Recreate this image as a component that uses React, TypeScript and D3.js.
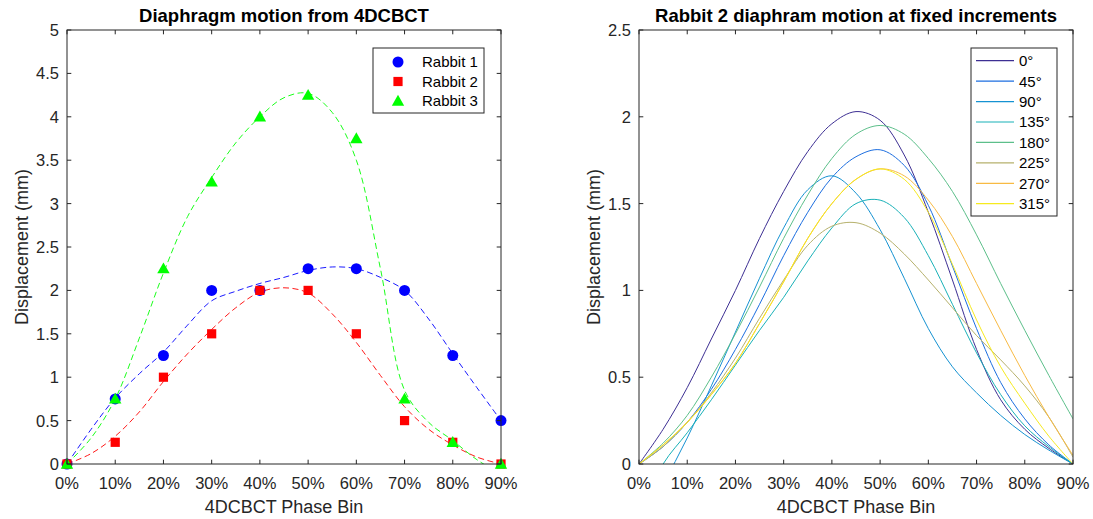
import React from 'react';
import * as d3 from 'd3';

const W = 1093;
const H = 519;

// ---------- Left chart data ----------
const PHASE_BINS = [0, 10, 20, 30, 40, 50, 60, 70, 80, 90];
const RABBIT1 = [0, 0.75, 1.25, 2, 2, 2.25, 2.25, 2, 1.25, 0.5];
const RABBIT2 = [0, 0.25, 1, 1.5, 2, 2, 1.5, 0.5, 0.25, 0];
const RABBIT3 = [0, 0.75, 2.25, 3.25, 4, 4.25, 3.75, 0.75, 0.25, 0];
const RABBIT_NAMES = ['Rabbit 1', 'Rabbit 2', 'Rabbit 3'];
const RABBIT_COLORS = ['#0000ff', '#ff0000', '#00ff00'];

const FIT_X = [0, 5, 10, 15, 20, 25, 30, 35, 40, 45, 50, 55, 60, 65, 70, 75, 80, 85, 90];
const FIT1 = [0, 0.4, 0.76, 1.04, 1.29, 1.6, 1.88, 1.99, 2.08, 2.15, 2.23, 2.27, 2.25, 2.15, 2.0, 1.67, 1.27, 0.88, 0.5];
const FIT2 = [0, 0.12, 0.32, 0.6, 0.95, 1.27, 1.55, 1.8, 1.98, 2.03, 1.97, 1.73, 1.4, 1.02, 0.66, 0.4, 0.22, 0.08, 0];
const FIT3 = [0, 0.3, 0.75, 1.45, 2.2, 2.85, 3.3, 3.7, 4.0, 4.22, 4.27, 4.05, 3.5, 2.25, 0.85, 0.48, 0.27, 0.05, -0.12];

const LEFT_Y_TICKS = [0, 0.5, 1, 1.5, 2, 2.5, 3, 3.5, 4, 4.5, 5];

// ---------- Right chart data ----------
const RIGHT_X = [0, 5, 10, 15, 20, 25, 30, 35, 40, 45, 50, 55, 60, 65, 70, 75, 80, 85, 90];
const ANGLE_LABELS = ['0°', '45°', '90°', '135°', '180°', '225°', '270°', '315°'];
const ANGLE_COLORS = ['#3d2f93', '#1c6ee0', '#1592d2', '#19b1b8', '#5cbf8a', '#b6b16c', '#f8ba43', '#f6ea1e'];
const A0 = [0, 0.2, 0.44, 0.72, 1.0, 1.3, 1.57, 1.8, 1.96, 2.03, 1.98, 1.78, 1.45, 1.06, 0.66, 0.37, 0.2, 0.09, 0];
const A45 = [0, 0.1, 0.24, 0.43, 0.66, 0.92, 1.2, 1.45, 1.65, 1.77, 1.81, 1.72, 1.49, 1.14, 0.78, 0.47, 0.26, 0.11, 0];
const A90 = [-0.4, -0.12, 0.15, 0.45, 0.76, 1.07, 1.36, 1.58, 1.66, 1.56, 1.35, 1.07, 0.78, 0.56, 0.41, 0.28, 0.17, 0.08, 0];
const A135 = [-0.3, 0, 0.18, 0.37, 0.57, 0.77, 0.96, 1.17, 1.36, 1.5, 1.52, 1.42, 1.2, 0.92, 0.64, 0.4, 0.22, 0.1, 0];
const A180 = [0, 0.12, 0.28, 0.5, 0.75, 1.02, 1.3, 1.55, 1.76, 1.9, 1.95, 1.9, 1.76, 1.57, 1.32, 1.04, 0.77, 0.51, 0.26];
const A225 = [0, 0.1, 0.24, 0.41, 0.61, 0.84, 1.06, 1.26, 1.37, 1.39, 1.33, 1.21, 1.06, 0.9, 0.74, 0.6, 0.45, 0.27, 0.04];
const A270 = [0, 0.11, 0.24, 0.4, 0.58, 0.81, 1.05, 1.3, 1.5, 1.64, 1.7, 1.66, 1.52, 1.31, 1.04, 0.77, 0.51, 0.27, 0.05];
const A315 = [0, 0.11, 0.24, 0.4, 0.58, 0.81, 1.05, 1.3, 1.5, 1.64, 1.7, 1.64, 1.45, 1.15, 0.83, 0.56, 0.35, 0.16, 0];
const ANGLE_SERIES = [A0, A45, A90, A135, A180, A225, A270, A315];
const RIGHT_Y_TICKS = [0, 0.5, 1, 1.5, 2, 2.5];

const X_TICKS = [0, 10, 20, 30, 40, 50, 60, 70, 80, 90];

const FONT = '"Liberation Sans", Arial, Helvetica, sans-serif';
const AXIS_COLOR = '#262626';

type Scale = d3.ScaleLinear<number, number>;

function Frame({ x, y, yTicks, title, xLabel, yLabel, yLabelX }: {
  x: Scale; y: Scale; yTicks: number[]; title: string; xLabel: string; yLabel: string; yLabelX: number;
}) {
  const [x0, x1] = x.range();
  const [y0, y1] = y.range(); // y0 bottom, y1 top
  const tl = 4.3;
  return (
    <g>
      {X_TICKS.map((t) => (
        <g key={'xt' + t}>
          <line x1={x(t)} x2={x(t)} y1={y0} y2={y0 - tl} stroke={AXIS_COLOR} strokeWidth={1} />
          <line x1={x(t)} x2={x(t)} y1={y1} y2={y1 + tl} stroke={AXIS_COLOR} strokeWidth={1} />
          <text x={x(t)} y={y0 + 25} textAnchor="middle" fontSize={16.5} fill={AXIS_COLOR} fontFamily={FONT}>{t + '%'}</text>
        </g>
      ))}
      {yTicks.map((t) => (
        <g key={'yt' + t}>
          <line x1={x0} x2={x0 + tl} y1={y(t)} y2={y(t)} stroke={AXIS_COLOR} strokeWidth={1} />
          <line x1={x1} x2={x1 - tl} y1={y(t)} y2={y(t)} stroke={AXIS_COLOR} strokeWidth={1} />
          <text x={x0 - 8} y={y(t)} dy="0.36em" textAnchor="end" fontSize={16.5} fill={AXIS_COLOR} fontFamily={FONT}>{String(t)}</text>
        </g>
      ))}
      <rect x={x0} y={y1} width={x1 - x0} height={y0 - y1} fill="none" stroke={AXIS_COLOR} strokeWidth={1} />
      <text x={(x0 + x1) / 2} y={y1 - 8} textAnchor="middle" fontSize={18.5} fontWeight="bold" fill="#000" fontFamily={FONT}>{title}</text>
      <text x={(x0 + x1) / 2} y={y0 + 49} textAnchor="middle" fontSize={18} fill={AXIS_COLOR} fontFamily={FONT}>{xLabel}</text>
      <text transform={`translate(${yLabelX},${(y0 + y1) / 2}) rotate(-90)`} textAnchor="middle" dy="0.35em" fontSize={18} fill={AXIS_COLOR} fontFamily={FONT}>{yLabel}</text>
    </g>
  );
}

function Marker({ kind, cx, cy, color }: { kind: number; cx: number; cy: number; color: string }) {
  if (kind === 0) return <circle cx={cx} cy={cy} r={5.5} fill={color} />;
  if (kind === 1) return <rect x={cx - 4.6} y={cy - 4.6} width={9.2} height={9.2} fill={color} />;
  const s = 6.2;
  return <path d={`M${cx},${cy - s}L${cx + s * 1.0},${cy + s * 0.75}L${cx - s * 1.0},${cy + s * 0.75}Z`} fill={color} />;
}

export default function App() {
  // Left
  const xL = d3.scaleLinear().domain([0, 90]).range([67, 501]);
  const yL = d3.scaleLinear().domain([0, 5]).range([464, 30]);
  // Right
  const xR = d3.scaleLinear().domain([0, 90]).range([639, 1073]);
  const yR = d3.scaleLinear().domain([0, 2.5]).range([464, 30]);

  const lineL = d3.line<number>().x((_, i) => xL(FIT_X[i])).y((v) => yL(v)).curve(d3.curveCatmullRom.alpha(0.5));
  const lineR = d3.line<number>().x((_, i) => xR(RIGHT_X[i])).y((v) => yR(v)).curve(d3.curveCatmullRom.alpha(0.5));

  const rabbits = [RABBIT1, RABBIT2, RABBIT3];
  const fits = [FIT1, FIT2, FIT3];

  return (
    <svg width={W} height={H} style={{ position: 'absolute', left: 0, top: 0, background: '#fff' }} xmlns="http://www.w3.org/2000/svg">
      <defs>
        <clipPath id="clipL"><rect x={67} y={30} width={434} height={434} /></clipPath>
        <clipPath id="clipR"><rect x={639} y={30} width={434} height={434} /></clipPath>
      </defs>
      <rect x={0} y={0} width={W} height={H} fill="#fff" />

      {/* Left chart */}
      <g clipPath="url(#clipL)">
        {fits.map((f, k) => (
          <path key={'fit' + k} d={lineL(f) || ''} fill="none" stroke={RABBIT_COLORS[k]} strokeWidth={0.9} strokeDasharray="6,3.5" />
        ))}
      </g>
      {rabbits.map((r, k) => (
        <g key={'r' + k}>
          {r.map((v, i) => (
            <Marker key={i} kind={k} cx={xL(PHASE_BINS[i])} cy={yL(v)} color={RABBIT_COLORS[k]} />
          ))}
        </g>
      ))}
      <Frame x={xL} y={yL} yTicks={LEFT_Y_TICKS} title="Diaphragm motion from 4DCBCT" xLabel="4DCBCT Phase Bin" yLabel="Displacement (mm)" yLabelX={22} />
      {/* Left legend */}
      <g>
        <rect x={373} y={48} width={111} height={65} fill="#fff" stroke={AXIS_COLOR} strokeWidth={1} />
        {RABBIT_NAMES.map((n, k) => (
          <g key={'lg' + k}>
            <Marker kind={k} cx={398} cy={62 + k * 19.5} color={RABBIT_COLORS[k]} />
            <text x={422} y={62 + k * 19.5} dy="0.36em" fontSize={15} fill="#000" fontFamily={FONT}>{n}</text>
          </g>
        ))}
      </g>

      {/* Right chart */}
      <g clipPath="url(#clipR)">
        {ANGLE_SERIES.map((s, k) => (
          <path key={'a' + k} d={lineR(s) || ''} fill="none" stroke={ANGLE_COLORS[k]} strokeWidth={1} />
        ))}
      </g>
      <Frame x={xR} y={yR} yTicks={RIGHT_Y_TICKS} title="Rabbit 2 diaphram motion at fixed increments" xLabel="4DCBCT Phase Bin" yLabel="Displacement (mm)" yLabelX={594} />
      {/* Right legend */}
      <g>
        <rect x={971} y={48} width={86} height={168} fill="#fff" stroke={AXIS_COLOR} strokeWidth={1} />
        {ANGLE_LABELS.map((n, k) => (
          <g key={'rg' + k}>
            <line x1={976} x2={1014} y1={60.7 + k * 20.43} y2={60.7 + k * 20.43} stroke={ANGLE_COLORS[k]} strokeWidth={1.2} />
            <text x={1019} y={60.7 + k * 20.43} dy="0.36em" fontSize={15} fill="#000" fontFamily={FONT}>{n}</text>
          </g>
        ))}
      </g>
    </svg>
  );
}
